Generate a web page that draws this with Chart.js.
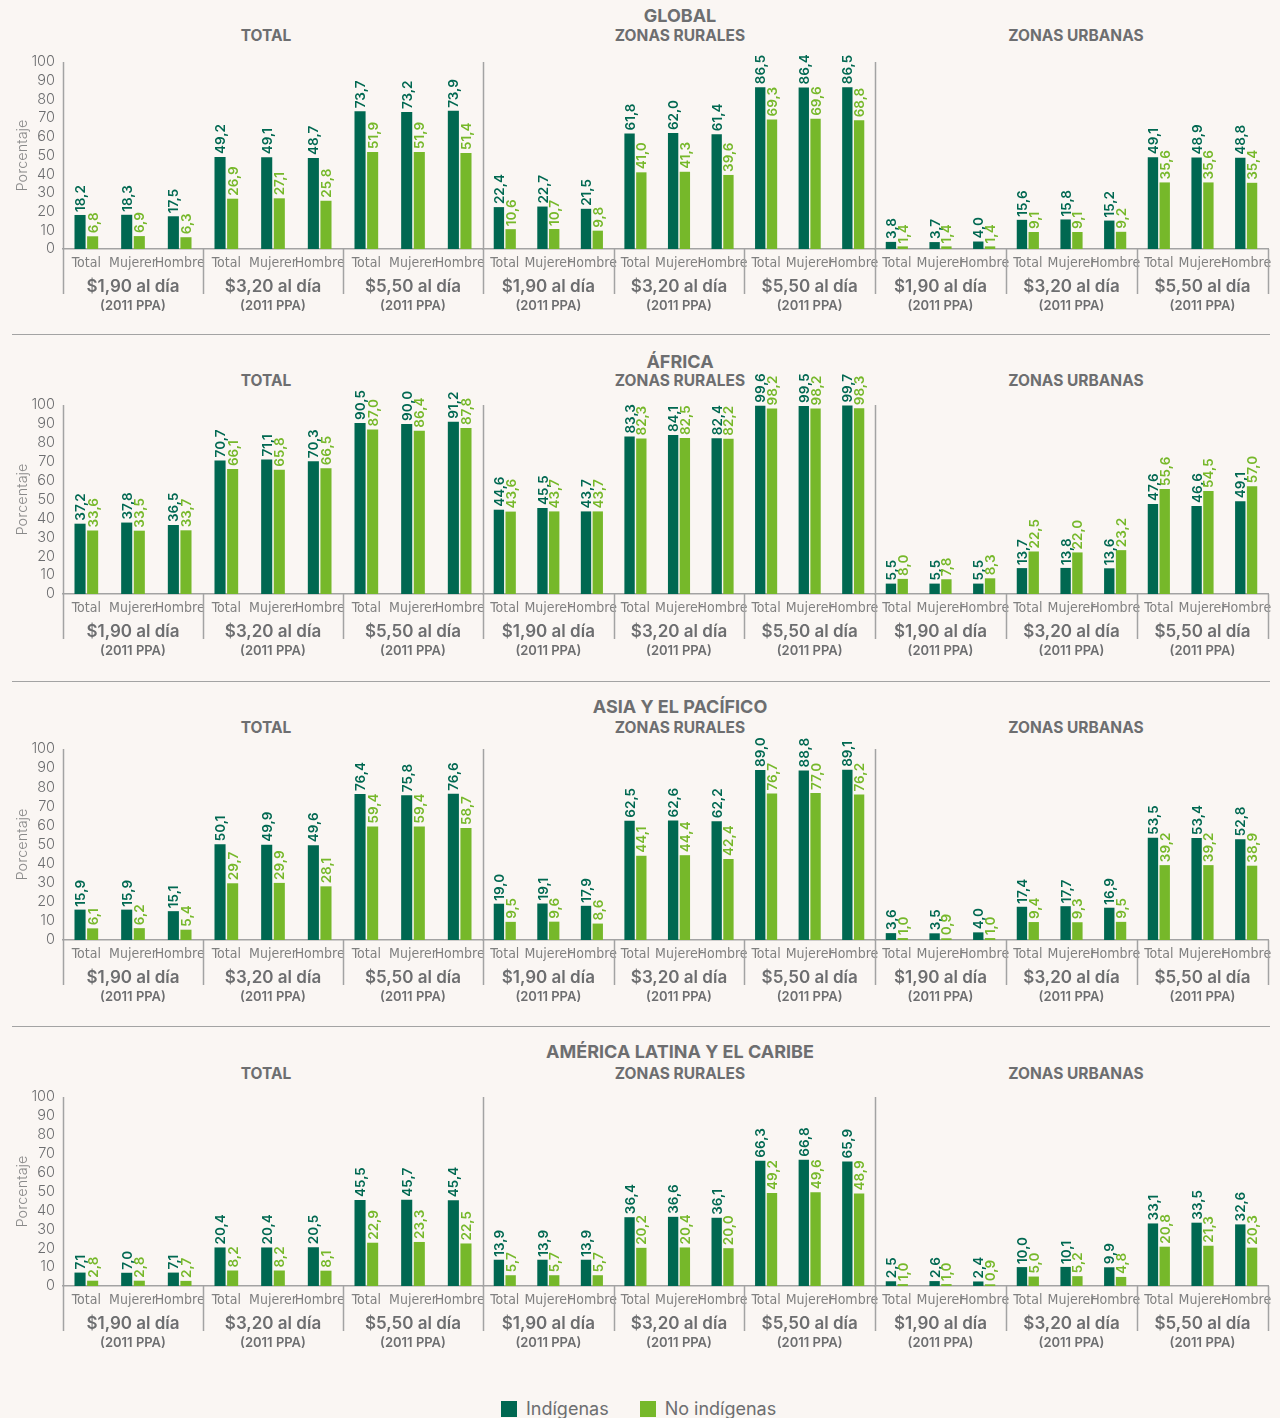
<!DOCTYPE html>
<html lang="es">
<head>
<meta charset="utf-8">
<title>Pobreza indígena por región</title>
<script src="https://cdn.jsdelivr.net/npm/chart.js@4.4.1/dist/chart.umd.min.js"></script>
<style>
  body { margin: 0; background: #faf6f3; font-family: Inter, "Noto Sans", sans-serif; }
  #page { position: relative; width: 1280px; height: 1418px; overflow: hidden; }
  .title, .sub { position: absolute; color: #6d6e70; font-weight: 700; line-height: 20px;
    white-space: nowrap; transform: translateX(-50%); }
  .title { font-size: 18px; }
  .sub { font-size: 15.5px; }
  .rule { position: absolute; left: 12px; width: 1258px; border-top: 1.5px solid #a3a3a3; }
  canvas { position: absolute; }
  .legend { position: absolute; top: 1399px; left: 501px; display: flex; gap: 31px;
    color: #6d6e70; font-size: 18px; line-height: 20px; }
  .legend span { display: flex; align-items: center; gap: 9px; }
  .legend i { display: inline-block; width: 16px; height: 16px; }
</style>
</head>
<body>
<div id="page"></div>
<script>
// categorías
const groups = ['Total', 'Mujerer', 'Hombre'];
const lines = ['$1,90 al día', '$3,20 al día', '$5,50 al día'];
const ppa = '(2011 PPA)';
const categories = lines.flatMap(() => groups);
const regions = ['GLOBAL', 'ÁFRICA', 'ASIA Y EL PACÍFICO', 'AMÉRICA LATINA Y EL CARIBE'];
const areas = ['TOTAL', 'ZONAS RURALES', 'ZONAS URBANAS'];
const seriesNames = ['Indígenas', 'No indígenas'];
const seriesColors = ['#006851', '#76b82a'];

// valores (%)
const globalTotalInd   = [18.2, 18.3, 17.5, 49.2, 49.1, 48.7, 73.7, 73.2, 73.9];
const globalTotalNoInd = [6.8, 6.9, 6.3, 26.9, 27.1, 25.8, 51.9, 51.9, 51.4];
const globalRuralInd   = [22.4, 22.7, 21.5, 61.8, 62.0, 61.4, 86.5, 86.4, 86.5];
const globalRuralNoInd = [10.6, 10.7, 9.8, 41.0, 41.3, 39.6, 69.3, 69.6, 68.8];
const globalUrbanInd   = [3.8, 3.7, 4.0, 15.6, 15.8, 15.2, 49.1, 48.9, 48.8];
const globalUrbanNoInd = [1.4, 1.4, 1.4, 9.1, 9.1, 9.2, 35.6, 35.6, 35.4];

const africaTotalInd   = [37.2, 37.8, 36.5, 70.7, 71.1, 70.3, 90.5, 90.0, 91.2];
const africaTotalNoInd = [33.6, 33.5, 33.7, 66.1, 65.8, 66.5, 87.0, 86.4, 87.8];
const africaRuralInd   = [44.6, 45.5, 43.7, 83.3, 84.1, 82.4, 99.6, 99.5, 99.7];
const africaRuralNoInd = [43.6, 43.7, 43.7, 82.3, 82.5, 82.2, 98.2, 98.2, 98.3];
const africaUrbanInd   = [5.5, 5.5, 5.5, 13.7, 13.8, 13.6, 47.6, 46.6, 49.1];
const africaUrbanNoInd = [8.0, 7.8, 8.3, 22.5, 22.0, 23.2, 55.6, 54.5, 57.0];

const asiaTotalInd     = [15.9, 15.9, 15.1, 50.1, 49.9, 49.6, 76.4, 75.8, 76.6];
const asiaTotalNoInd   = [6.1, 6.2, 5.4, 29.7, 29.9, 28.1, 59.4, 59.4, 58.7];
const asiaRuralInd     = [19.0, 19.1, 17.9, 62.5, 62.6, 62.2, 89.0, 88.8, 89.1];
const asiaRuralNoInd   = [9.5, 9.6, 8.6, 44.1, 44.4, 42.4, 76.7, 77.0, 76.2];
const asiaUrbanInd     = [3.6, 3.5, 4.0, 17.4, 17.7, 16.9, 53.5, 53.4, 52.8];
const asiaUrbanNoInd   = [1.0, 0.9, 1.0, 9.4, 9.3, 9.5, 39.2, 39.2, 38.9];

const latamTotalInd    = [7.1, 7.0, 7.1, 20.4, 20.4, 20.5, 45.5, 45.7, 45.4];
const latamTotalNoInd  = [2.8, 2.8, 2.7, 8.2, 8.2, 8.1, 22.9, 23.3, 22.5];
const latamRuralInd    = [13.9, 13.9, 13.9, 36.4, 36.6, 36.1, 66.3, 66.8, 65.9];
const latamRuralNoInd  = [5.7, 5.7, 5.7, 20.2, 20.4, 20.0, 49.2, 49.6, 48.9];
const latamUrbanInd    = [2.5, 2.6, 2.4, 10.0, 10.1, 9.9, 33.1, 33.5, 32.6];
const latamUrbanNoInd  = [1.0, 1.0, 0.9, 5.0, 5.2, 4.8, 20.8, 21.3, 20.3];

const regionData = [
  [[globalTotalInd, globalTotalNoInd], [globalRuralInd, globalRuralNoInd], [globalUrbanInd, globalUrbanNoInd]],
  [[africaTotalInd, africaTotalNoInd], [africaRuralInd, africaRuralNoInd], [africaUrbanInd, africaUrbanNoInd]],
  [[asiaTotalInd, asiaTotalNoInd], [asiaRuralInd, asiaRuralNoInd], [asiaUrbanInd, asiaUrbanNoInd]],
  [[latamTotalInd, latamTotalNoInd], [latamRuralInd, latamRuralNoInd], [latamUrbanInd, latamUrbanNoInd]]
];

// layout
const plotTop = [62, 405, 749, 1097];
const plotBottom = [249, 594, 940, 1286];
const titleY = [16, 362, 707, 1052];
const subY = [36, 381, 728, 1074];
const ruleY = [334, 681, 1026];
const panelLeft = [63, 483, 875];
const panelRight = [483, 875, 1268];
const subX = [266, 680, 1076];
const gray = '#6d6e70';
const lineGray = '#a3a3a3';
const pad = 12;

Chart.defaults.font.family = 'Inter, "Noto Sans", sans-serif';
Chart.defaults.color = gray;
Chart.defaults.animation = false;

const fmt = v => v.toFixed(1).replace('.', ',');

// etiquetas de valor giradas sobre cada barra
const valueLabels = {
  id: 'valueLabels',
  afterDatasetsDraw(chart) {
    const ctx = chart.ctx;
    ctx.save();
    ctx.font = '600 13.5px Inter, "Noto Sans", sans-serif';
    ctx.textAlign = 'left';
    ctx.textBaseline = 'middle';
    chart.data.datasets.forEach((ds, i) => {
      chart.getDatasetMeta(i).data.forEach((bar, j) => {
        ctx.save();
        ctx.translate(bar.x + 1, bar.y - 3);
        ctx.rotate(-Math.PI / 2);
        ctx.fillStyle = ds.backgroundColor;
        ctx.fillText(fmt(ds.data[j]), 0, 0);
        ctx.restore();
      });
    });
    ctx.restore();
  }
};

// separadores y etiquetas de umbral bajo el eje
const groupAxis = {
  id: 'groupAxis',
  afterDraw(chart, args, opts) {
    const { ctx, chartArea } = chart;
    const x = chart.scales.x;
    const base = chartArea.bottom;
    ctx.save();
    ctx.strokeStyle = lineGray;
    ctx.lineWidth = 1.5;
    [0, 3, 6, 9].forEach(i => {
      if (i === 9 && !opts.last) return;
      const px = Math.round(x.getPixelForValue(i - 0.5)) + 0.5;
      ctx.beginPath();
      ctx.moveTo(px, i === 0 ? chartArea.top : base);
      ctx.lineTo(px, base + 45);
      ctx.stroke();
    });
    ctx.fillStyle = gray;
    ctx.textAlign = 'center';
    ctx.textBaseline = 'middle';
    lines.forEach((t, g) => {
      const cx = x.getPixelForValue(g * 3 + 1);
      ctx.font = '600 17px Inter, "Noto Sans", sans-serif';
      ctx.fillText(t, cx, base + 38);
      ctx.font = '600 13px Inter, "Noto Sans", sans-serif';
      ctx.fillText(ppa, cx, base + 57);
    });
    ctx.restore();
  }
};

function makeChart(canvas, series, p) {
  const first = p === 0;
  return new Chart(canvas, {
    type: 'bar',
    data: {
      labels: categories,
      datasets: series.map((vals, s) => ({
        label: seriesNames[s],
        data: vals,
        backgroundColor: seriesColors[s],
        categoryPercentage: 0.54,
        barPercentage: 0.88
      }))
    },
    options: {
      responsive: false,
      devicePixelRatio: 1,
      layout: { padding: { top: 40, bottom: 0, left: first ? 0 : pad, right: pad } },
      plugins: {
        legend: { display: false },
        tooltip: { enabled: false },
        groupAxis: { last: p === 2 }
      },
      scales: {
        x: {
          grid: { display: false, drawTicks: false },
          border: { color: lineGray, width: 1.5 },
          ticks: {
            autoSkip: false, maxRotation: 0, minRotation: 0, padding: 6,
            color: '#808080',
            font: { family: '"Liberation Sans Narrow", "DejaVu Sans Condensed", sans-serif', size: 14 }
          },
          afterFit: s => { s.height = 80; }
        },
        y: {
          display: first,
          min: 0, max: 100,
          grid: { display: false, drawTicks: false },
          border: { display: false },
          ticks: { stepSize: 10, autoSkip: false, padding: 8, color: gray, font: { size: 14.5, weight: 300 } },
          title: {
            display: true, text: 'Porcentaje', color: '#8a8a8a',
            font: { size: 14.5, weight: 300 }, padding: { top: 14, bottom: 0 }
          },
          afterFit: s => { s.width = first ? 63 : 0; }
        }
      }
    },
    plugins: [valueLabels, groupAxis]
  });
}

const page = document.getElementById('page');

function addText(cls, text, x, y) {
  const d = document.createElement('div');
  d.className = cls;
  d.textContent = text;
  d.style.left = x + 'px';
  d.style.top = (y - 10) + 'px';
  page.appendChild(d);
}

ruleY.forEach(y => {
  const d = document.createElement('div');
  d.className = 'rule';
  d.style.top = y + 'px';
  page.appendChild(d);
});

regions.forEach((name, r) => {
  addText('title', name, 680, titleY[r]);
  areas.forEach((area, p) => {
    addText('sub', area, subX[p], subY[r]);
    const canvas = document.createElement('canvas');
    const left = p === 0 ? 0 : panelLeft[p] - pad;
    const width = panelRight[p] + pad - left;
    const height = 40 + (plotBottom[r] - plotTop[r]) + 80;
    canvas.width = width;
    canvas.height = height;
    canvas.style.left = left + 'px';
    canvas.style.top = (plotTop[r] - 40) + 'px';
    canvas.style.width = width + 'px';
    canvas.style.height = height + 'px';
    page.appendChild(canvas);
    makeChart(canvas, regionData[r][p], p);
  });
});

// leyenda
const legend = document.createElement('div');
legend.className = 'legend';
seriesNames.forEach((n, s) => {
  const item = document.createElement('span');
  const sw = document.createElement('i');
  sw.style.background = seriesColors[s];
  item.appendChild(sw);
  item.appendChild(document.createTextNode(n));
  legend.appendChild(item);
});
page.appendChild(legend);
</script>
</body>
</html>
